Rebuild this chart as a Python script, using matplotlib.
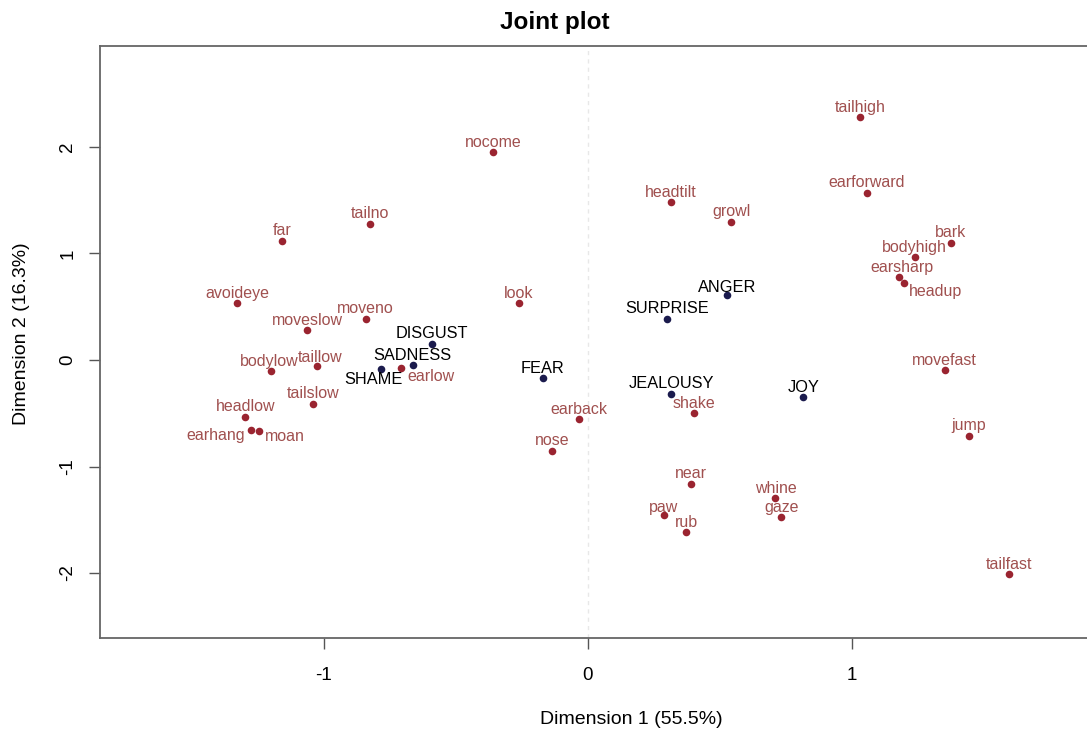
import matplotlib
matplotlib.use("Agg")
import matplotlib.pyplot as plt

plt.rcParams['font.family'] = ['Liberation Sans', 'DejaVu Sans']
plt.rcParams['axes.unicode_minus'] = False

# behaviour categories (column points)
behaviours = ['tailhigh', 'earforward', 'nocome', 'headtilt', 'growl', 'tailno', 'far',
              'bark', 'bodyhigh', 'earsharp', 'headup', 'avoideye', 'look', 'moveno',
              'moveslow', 'bodylow', 'taillow', 'earlow', 'tailslow', 'headlow', 'earhang',
              'moan', 'earback', 'nose', 'shake', 'movefast', 'jump', 'near', 'whine',
              'gaze', 'paw', 'rub', 'tailfast']
beh_x = [1.03, 1.055, -0.36, 0.315, 0.543, -0.824, -1.157,
         1.374, 1.237, 1.176, 1.195, -1.328, -0.262, -0.842,
         -1.063, -1.20, -1.025, -0.71, -1.04, -1.298, -1.275,
         -1.245, -0.034, -0.137, 0.402, 1.351, 1.442, 0.391, 0.71,
         0.732, 0.288, 0.372, 1.594]
beh_y = [2.28, 1.57, 1.95, 1.48, 1.30, 1.28, 1.12,
         1.10, 0.967, 0.78, 0.72, 0.535, 0.535, 0.385,
         0.28, -0.10, -0.06, -0.075, -0.41, -0.535, -0.66,
         -0.665, -0.554, -0.854, -0.50, -0.094, -0.71, -1.164, -1.296,
         -1.474, -1.455, -1.615, -2.01]

# emotion categories (row points)
emotions = ['DISGUST', 'SADNESS', 'SHAME', 'FEAR', 'ANGER', 'SURPRISE', 'JEALOUSY', 'JOY']
emo_x = [-0.592, -0.664, -0.782, -0.171, 0.528, 0.30, 0.315, 0.816]
emo_y = [0.15, -0.047, -0.085, -0.169, 0.61, 0.385, -0.315, -0.35]

# label placement (pixels from the point), default is centred just above
label_pos = {
    'earlow': (7, -9, 'left'), 'SHAME': (-8, -10, 'center'),
    'earhang': (-6, -5, 'right'), 'moan': (6, -6, 'left'),
    'headup': (5, -8, 'left'), 'bodylow': (-2, 9, 'center'),
    'taillow': (3, 9, 'center'), 'earsharp': (3, 9, 'center'),
    'paw': (0, 7, 'center'), 'ANGER': (0, 8, 'center'), 'DISGUST': (0, 11, 'center'),
}

W, H = 1087, 735
fig = plt.figure(figsize=(W / 100, H / 100), dpi=100)
ax = fig.add_axes([100 / W, 97 / H, 1000 / W, 592 / H])

ax.axvline(0, color='#e8e8e8', lw=1, ls=(0, (3, 3)), zorder=0)

ax.scatter(beh_x, beh_y, s=30, color='#9a2430', zorder=3, linewidths=0)
ax.scatter(emo_x, emo_y, s=30, color='#1b1b4d', zorder=3, linewidths=0)

def put_labels(names, xs, ys, color, size):
    for name, x, y in zip(names, xs, ys):
        dx, dy, ha = label_pos.get(name, (0, 10, 'center'))
        ax.annotate(name, (x, y), xytext=(dx, dy), textcoords='offset pixels',
                    ha=ha, va='center', fontsize=size, color=color, zorder=4)

put_labels(behaviours, beh_x, beh_y, '#a0504f', 11.5)
put_labels(emotions, emo_x, emo_y, 'black', 11.8)

ax.set_xlim(-1.848, 1.939)
ax.set_ylim(-2.61, 2.948)
ax.set_xticks([-1, 0, 1])
ax.set_yticks([-2, -1, 0, 1, 2])
ax.tick_params(length=8, width=1, color='#555555', labelsize=13.5)
ax.tick_params(axis='x', pad=13)
ax.tick_params(axis='y', pad=9)
for lab in ax.get_yticklabels():
    lab.set_rotation(90)
    lab.set_va('center')
ax.spines['right'].set_visible(False)
for sp in ['left', 'top', 'bottom']:
    ax.spines[sp].set_color('#666666')
    ax.spines[sp].set_linewidth(1.3)

fig.text(555 / W, 1 - 22 / H, 'Joint plot', ha='center', va='center',
         fontsize=17.5, fontweight='bold')
fig.text(631 / W, 1 - 720 / H, 'Dimension 1 (55.5%)', ha='center', va='center', fontsize=14)
fig.text(22 / W, 1 - 334 / H, 'Dimension 2 (16.3%)', ha='center', va='center',
         fontsize=14, rotation=90)

fig.savefig('out.png', dpi=100)
